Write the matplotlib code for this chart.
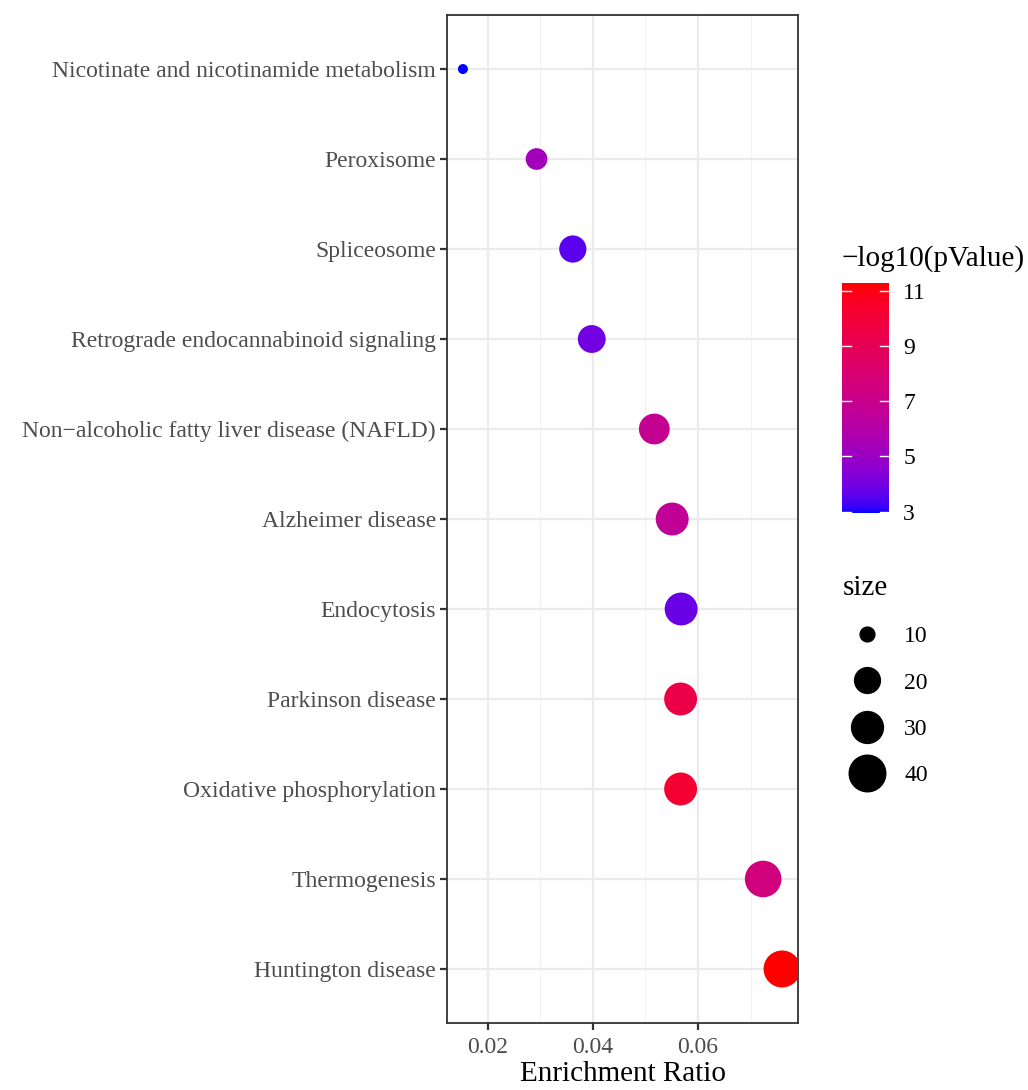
import numpy as np
import matplotlib
matplotlib.use("Agg")
import matplotlib.pyplot as plt
from matplotlib.colors import ListedColormap, Normalize
from matplotlib.lines import Line2D

plt.rcParams['font.family'] = ['Liberation Serif', 'DejaVu Serif']

# data, top to bottom
pathways = [
    "Nicotinate and nicotinamide metabolism",
    "Peroxisome",
    "Spliceosome",
    "Retrograde endocannabinoid signaling",
    "Non\u2212alcoholic fatty liver disease (NAFLD)",
    "Alzheimer disease",
    "Endocytosis",
    "Parkinson disease",
    "Oxidative phosphorylation",
    "Thermogenesis",
    "Huntington disease",
]
enrichment = [0.0153, 0.0293, 0.0362, 0.0398, 0.0517, 0.0551, 0.0568, 0.0567, 0.0567, 0.0724, 0.0760]
neglogp = [2.95, 5.3, 3.6, 4.0, 6.8, 6.6, 3.8, 9.5, 10.2, 7.6, 11.3]
gene_count = [9, 15, 22, 23, 28, 32, 32, 32, 32, 40, 41]

cbar_ticks = [3, 5, 7, 9, 11]
size_breaks = [10, 20, 30, 40]


# blue -> red gradient interpolated in Lab space (like ggplot2)
def srgb_to_lab(c):
    c = np.asarray(c, float)
    lin = np.where(c <= 0.04045, c / 12.92, ((c + 0.055) / 1.055) ** 2.4)
    m = np.array([[0.4124, 0.3576, 0.1805],
                  [0.2126, 0.7152, 0.0722],
                  [0.0193, 0.1192, 0.9505]])
    xyz = m @ lin / np.array([0.95047, 1.0, 1.08883])
    f = np.where(xyz > 0.008856, np.cbrt(xyz), 7.787 * xyz + 16 / 116)
    return np.array([116 * f[1] - 16, 500 * (f[0] - f[1]), 200 * (f[1] - f[2])])


def lab_to_srgb(lab):
    L, a, b = lab
    fy = (L + 16) / 116
    fx = fy + a / 500
    fz = fy - b / 200
    f = np.array([fx, fy, fz])
    xyz = np.where(f ** 3 > 0.008856, f ** 3, (f - 16 / 116) / 7.787)
    xyz = xyz * np.array([0.95047, 1.0, 1.08883])
    minv = np.array([[3.2406, -1.5372, -0.4986],
                     [-0.9689, 1.8758, 0.0415],
                     [0.0557, -0.2040, 1.0570]])
    lin = np.clip(minv @ xyz, 0, 1)
    c = np.where(lin <= 0.0031308, 12.92 * lin, 1.055 * lin ** (1 / 2.4) - 0.055)
    return np.clip(c, 0, 1)


lab_lo = srgb_to_lab([0, 0, 1])
lab_hi = srgb_to_lab([1, 0, 0])
cols = [lab_to_srgb(lab_lo + t * (lab_hi - lab_lo)) for t in np.linspace(0, 1, 256)]
cmap = ListedColormap(cols)
norm = Normalize(min(neglogp), max(neglogp))

# size scale: diameter linear in sqrt of rescaled count (ggplot scale_size)
px = 0.72  # points per pixel at dpi 100
smin, smax = min(gene_count), max(gene_count)


def marker_diam(v):
    return (10 + 27 * np.sqrt((np.asarray(v, float) - smin) / (smax - smin))) * px


fig = plt.figure(figsize=(10.28, 10.9), dpi=100)
ax = fig.add_axes([0.4348, 0.0615, 0.3415, 0.9247])

ypos = np.arange(len(pathways))
ax.scatter(enrichment, ypos, s=marker_diam(gene_count) ** 2, c=neglogp,
           cmap=cmap, norm=norm, linewidths=0, zorder=3, clip_on=True)

ax.margins(x=0.05)
ax.set_yticks(ypos)
ax.set_yticklabels(pathways)
ax.set_xticks([0.02, 0.04, 0.06])
ax.set_xticklabels(["0.02", "0.04", "0.06"])
ax.set_xticks([0.03, 0.05, 0.07], minor=True)
ax.set_xlabel("Enrichment Ratio", fontsize=21, labelpad=2)

ax.grid(True, which='major', color='#EBEBEB', linewidth=1.6, zorder=0)
ax.grid(True, which='minor', axis='x', color='#F2F2F2', linewidth=0.8, zorder=0)
ax.set_axisbelow(True)
for sp in ax.spines.values():
    sp.set_color('#333333')
    sp.set_linewidth(1.3)
ax.tick_params(axis='both', which='major', labelsize=17, labelcolor='#4D4D4D',
               color='#333333', width=1.6, length=5, pad=3)
ax.tick_params(axis='x', which='major', pad=5)
ax.tick_params(axis='x', which='minor', length=0)
ax.set_ylim(len(pathways) - 0.4, -0.6)

# colour bar
cax = fig.add_axes([0.819, 0.5294, 0.046, 0.211])
sm = plt.cm.ScalarMappable(norm=norm, cmap=cmap)
cb = fig.colorbar(sm, cax=cax, ticks=cbar_ticks)
cb.outline.set_visible(False)
cb.ax.tick_params(labelsize=17, length=0, pad=10)
for t in cbar_ticks:
    cax.plot([0, 0.2], [t, t], color='white', lw=1, transform=cax.get_yaxis_transform())
    cax.plot([0.8, 1.0], [t, t], color='white', lw=1, transform=cax.get_yaxis_transform())
fig.text(0.819, 0.7505, "\u2212log10(pValue)", fontsize=21, ha='left', va='bottom')

# size legend
handles = [Line2D([], [], marker='o', linestyle='none', color='black',
                  markersize=marker_diam(b)) for b in size_breaks]
leg = fig.legend(handles, [str(b) for b in size_breaks], title="size",
                 loc='upper left', bbox_to_anchor=(0.820, 0.4725), frameon=False,
                 fontsize=17, title_fontsize=21, labelspacing=1.05,
                 handletextpad=0.6, borderpad=0, borderaxespad=0)
leg._legend_box.align = 'left'

fig.savefig("out.png", dpi=100)
